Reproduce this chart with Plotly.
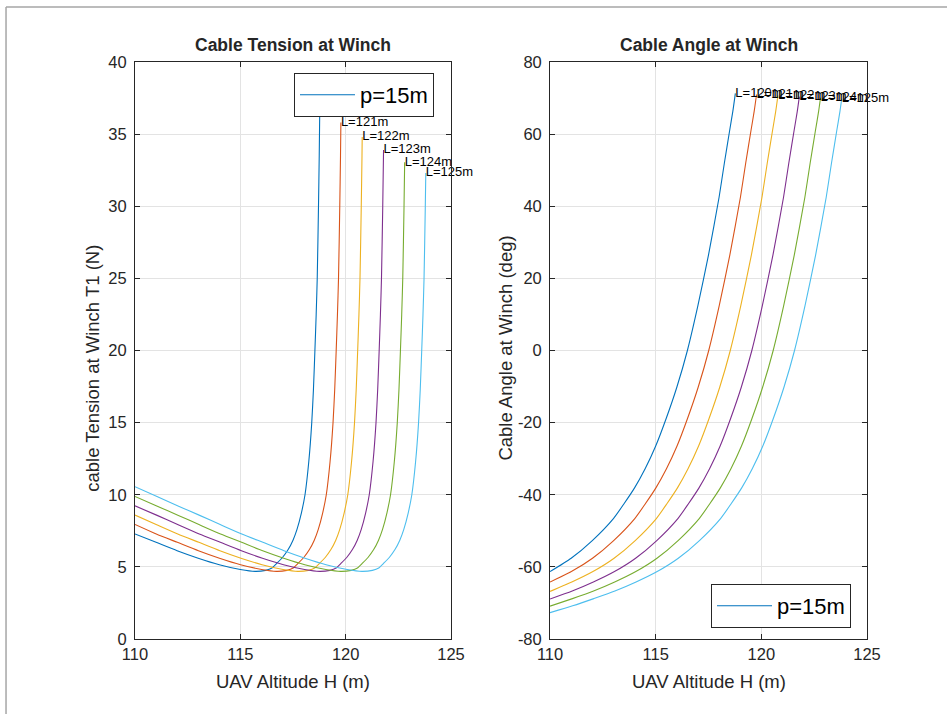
import plotly.graph_objects as go

# ---------------- data ----------------
labels = ["L=120m", "L=121m", "L=122m", "L=123m", "L=124m", "L=125m"]
legend_name = "p=15m"
colors = ["#0072BD", "#D95319", "#EDB120", "#7E2F8E", "#77AC30", "#4DBEEE"]

# Cable tension at winch T1 (N) vs UAV altitude H (m)
tH_120 = [110, 111, 112, 113, 114, 115, 115.7, 116.2, 116.5, 116.75, 117.0, 117.27, 117.5, 117.69, 117.9,
          118.07, 118.25, 118.39, 118.47, 118.54, 118.6, 118.65, 118.71, 118.745, 118.77]
tT_120 = [7.28, 6.7, 6.12, 5.6, 5.15, 4.82, 4.69, 4.76, 4.92, 5.27, 5.65, 6.2, 6.85, 7.6, 8.75,
          10.0, 12.3, 15.0, 17.3, 20.0, 22.5, 25.0, 30.0, 33.5, 36.7]
tH_121 = [110, 111.01, 112.01, 113.01, 114.01, 115.01, 116.01, 116.71, 117.21, 117.51, 117.76, 118.01, 118.28,
          118.51, 118.70, 118.91, 119.08, 119.26, 119.40, 119.48, 119.55, 119.61, 119.66, 119.72, 119.755, 119.773]
tT_121 = [7.94, 7.28, 6.7, 6.12, 5.6, 5.15, 4.82, 4.69, 4.76, 4.92, 5.27, 5.65, 6.2,
          6.85, 7.6, 8.75, 10.0, 12.3, 15.0, 17.3, 20.0, 22.5, 25.0, 30.0, 33.5, 35.8]
tH_122 = [110, 111.03, 112.03, 113.03, 114.03, 115.03, 116.03, 117.03, 117.73, 118.23, 118.53, 118.78, 119.03,
          119.3, 119.53, 119.72, 119.93, 120.1, 120.28, 120.42, 120.5, 120.57, 120.63, 120.68, 120.74, 120.775, 120.785]
tT_122 = [8.59, 7.92, 7.28, 6.7, 6.12, 5.6, 5.15, 4.82, 4.69, 4.76, 4.92, 5.27, 5.65,
          6.2, 6.85, 7.6, 8.75, 10.0, 12.3, 15.0, 17.3, 20.0, 22.5, 25.0, 30.0, 33.5, 34.8]
tH_123 = [110, 111.05, 112.05, 113.05, 114.05, 115.05, 116.05, 117.05, 118.05, 118.75, 119.25, 119.55, 119.8,
          120.05, 120.32, 120.55, 120.74, 120.95, 121.12, 121.3, 121.44, 121.52, 121.59, 121.65, 121.7, 121.76, 121.798]
tT_123 = [9.23, 8.57, 7.92, 7.28, 6.7, 6.12, 5.6, 5.15, 4.82, 4.69, 4.76, 4.92, 5.27,
          5.65, 6.2, 6.85, 7.6, 8.75, 10.0, 12.3, 15.0, 17.3, 20.0, 22.5, 25.0, 30.0, 33.9]
tH_124 = [110, 111.06, 112.06, 113.06, 114.06, 115.06, 116.06, 117.06, 118.06, 119.06, 119.76, 120.26, 120.56,
          120.81, 121.06, 121.33, 121.56, 121.75, 121.96, 122.13, 122.31, 122.45, 122.53, 122.6, 122.66, 122.71,
          122.77, 122.8]
tT_124 = [9.88, 9.2, 8.57, 7.92, 7.28, 6.7, 6.12, 5.6, 5.15, 4.82, 4.69, 4.76, 4.92,
          5.27, 5.65, 6.2, 6.85, 7.6, 8.75, 10.0, 12.3, 15.0, 17.3, 20.0, 22.5, 25.0,
          30.0, 33.05]
tH_125 = [110, 111.07, 112.07, 113.07, 114.07, 115.07, 116.07, 117.07, 118.07, 119.07, 120.07, 120.77, 121.27,
          121.57, 121.82, 122.07, 122.34, 122.57, 122.76, 122.97, 123.14, 123.32, 123.46, 123.54, 123.61, 123.67,
          123.72, 123.78, 123.803]
tT_125 = [10.56, 9.86, 9.2, 8.57, 7.92, 7.28, 6.7, 6.12, 5.6, 5.15, 4.82, 4.69, 4.76,
          4.92, 5.27, 5.65, 6.2, 6.85, 7.6, 8.75, 10.0, 12.3, 15.0, 17.3, 20.0, 22.5,
          25.0, 30.0, 32.3]

# Cable angle at winch (deg) vs UAV altitude H (m)
aH_120 = [110, 111, 112, 113, 113.5, 114, 114.5, 115, 115.5, 116, 116.5, 117, 117.5, 118, 118.25, 118.5, 118.65, 118.77]
aA_120 = [-61.3, -57.6, -52.7, -46.6, -42.5, -38.1, -32.8, -26.5, -18.8, -10.2, 0.0, 12.5, 26.5, 42.5, 52.0, 61.0, 66.3, 71.3]
aH_121 = [110, 111.01, 112.01, 113.01, 114.01, 114.51, 115.01, 115.51, 116.01, 116.51, 117.01, 117.51, 118.01,
          118.51, 119.01, 119.26, 119.51, 119.66, 119.773]
aA_121 = [-64.2, -61.3, -57.6, -52.7, -46.6, -42.5, -38.1, -32.8, -26.5, -18.8, -10.2, 0.0, 12.5,
          26.5, 42.5, 52.0, 61.0, 66.3, 71.0]
aH_122 = [110, 111.03, 112.03, 113.03, 114.03, 115.03, 115.53, 116.03, 116.53, 117.03, 117.53, 118.03, 118.53,
          119.03, 119.53, 120.03, 120.28, 120.53, 120.68, 120.785]
aA_122 = [-66.8, -64.2, -61.3, -57.6, -52.7, -46.6, -42.5, -38.1, -32.8, -26.5, -18.8, -10.2, 0.0,
          12.5, 26.5, 42.5, 52.0, 61.0, 66.3, 70.7]
aH_123 = [110, 111.05, 112.05, 113.05, 114.05, 115.05, 116.05, 116.55, 117.05, 117.55, 118.05, 118.55, 119.05,
          119.55, 120.05, 120.55, 121.05, 121.3, 121.55, 121.7, 121.798]
aA_123 = [-68.9, -66.7, -64.2, -61.3, -57.6, -52.7, -46.6, -42.5, -38.1, -32.8, -26.5, -18.8, -10.2,
          0.0, 12.5, 26.5, 42.5, 52.0, 61.0, 66.3, 70.4]
aH_124 = [110, 111.06, 112.06, 113.06, 114.06, 115.06, 116.06, 117.06, 117.56, 118.06, 118.56, 119.06, 119.56,
          120.06, 120.56, 121.06, 121.56, 122.06, 122.31, 122.56, 122.71, 122.8]
aA_124 = [-70.9, -68.8, -66.7, -64.2, -61.3, -57.6, -52.7, -46.6, -42.5, -38.1, -32.8, -26.5, -18.8,
          -10.2, 0.0, 12.5, 26.5, 42.5, 52.0, 61.0, 66.3, 70.1]
aH_125 = [110, 111.07, 112.07, 113.07, 114.07, 115.07, 116.07, 117.07, 118.07, 118.57, 119.07, 119.57, 120.07,
          120.57, 121.07, 121.57, 122.07, 122.57, 123.07, 123.32, 123.57, 123.72, 123.803]
aA_125 = [-72.7, -70.8, -68.8, -66.7, -64.2, -61.3, -57.6, -52.7, -46.6, -42.5, -38.1, -32.8, -26.5,
          -18.8, -10.2, 0.0, 12.5, 26.5, 42.5, 52.0, 61.0, 66.3, 69.8]

x_ticks = [110, 115, 120, 125]
x_ticktext = ["110", "115", "120", "125"]
y1_ticks = [0, 5, 10, 15, 20, 25, 30, 35, 40]
y1_ticktext = ["0", "5", "10", "15", "20", "25", "30", "35", "40"]
y2_ticks = [-80, -60, -40, -20, 0, 20, 40, 60, 80]
y2_ticktext = ["-80", "-60", "-40", "-20", "0", "20", "40", "60", "80"]

tension_H = [tH_120, tH_121, tH_122, tH_123, tH_124, tH_125]
tension_T = [tT_120, tT_121, tT_122, tT_123, tT_124, tT_125]
angle_H = [aH_120, aH_121, aH_122, aH_123, aH_124, aH_125]
angle_A = [aA_120, aA_121, aA_122, aA_123, aA_124, aA_125]

# ---------------- figure ----------------
FONT = "Liberation Sans, Arial, Helvetica, sans-serif"
AXC = "#262626"
GRID = "#e3e3e3"

fig = go.Figure()

for i in range(6):
    fig.add_trace(go.Scatter(
        x=tension_H[i], y=tension_T[i], mode="lines",
        line=dict(color=colors[i], width=1.1, shape="spline", smoothing=0.6),
        name=legend_name, showlegend=(i == 0), legend="legend",
        xaxis="x", yaxis="y", hoverinfo="skip"))
for i in range(6):
    fig.add_trace(go.Scatter(
        x=[tension_H[i][-1]], y=[tension_T[i][-1]], mode="text",
        text=[labels[i]], textposition="middle right",
        textfont=dict(family=FONT, size=13, color="#000000"),
        cliponaxis=False, showlegend=False, xaxis="x", yaxis="y", hoverinfo="skip"))

for i in range(6):
    fig.add_trace(go.Scatter(
        x=angle_H[i], y=angle_A[i], mode="lines",
        line=dict(color=colors[i], width=1.1, shape="spline", smoothing=0.6),
        name=legend_name, showlegend=(i == 0), legend="legend2",
        xaxis="x2", yaxis="y2", hoverinfo="skip"))
for i in range(6):
    fig.add_trace(go.Scatter(
        x=[angle_H[i][-1]], y=[angle_A[i][-1]], mode="text",
        text=[labels[i]], textposition="middle right",
        textfont=dict(family=FONT, size=13, color="#000000"),
        cliponaxis=False, showlegend=False, xaxis="x2", yaxis="y2", hoverinfo="skip"))

axis_common = dict(
    showgrid=True, gridcolor=GRID, gridwidth=1,
    showline=True, linecolor=AXC, linewidth=1, mirror="ticks",
    ticks="inside", ticklen=5, tickcolor=AXC, tickwidth=1,
    zeroline=False, tickfont=dict(family=FONT, size=16.5, color=AXC),
)

fig.update_layout(
    width=947, height=714,
    margin=dict(l=135, r=80, t=62, b=75),
    paper_bgcolor="white", plot_bgcolor="white",
    xaxis=dict(domain=[0, 0.4317], range=[110, 125], tickvals=x_ticks, ticktext=x_ticktext,
               anchor="y", **axis_common),
    yaxis=dict(domain=[0, 1], range=[0, 40], tickvals=y1_ticks, ticktext=y1_ticktext,
               anchor="x", ticklabelstandoff=4, **axis_common),
    xaxis2=dict(domain=[0.567, 1], range=[110, 125], tickvals=x_ticks, ticktext=x_ticktext,
                anchor="y2", **axis_common),
    yaxis2=dict(domain=[0, 1], range=[-80, 80], tickvals=y2_ticks, ticktext=y2_ticktext,
                anchor="x2", ticklabelstandoff=4, **axis_common),
    legend=dict(x=0.2172, y=0.9428, xanchor="left", yanchor="middle",
                bgcolor="white", bordercolor=AXC, borderwidth=1,
                font=dict(family=FONT, size=22, color="#000000"), itemwidth=55),
    legend2=dict(x=0.7869, y=0.0572, xanchor="left", yanchor="middle",
                 bgcolor="white", bordercolor=AXC, borderwidth=1,
                 font=dict(family=FONT, size=22, color="#000000"), itemwidth=55),
    showlegend=True,
)

annots = [
    dict(text="<b>Cable Tension at Winch</b>", x=0.2159, y=1.0295, size=17.5),
    dict(text="<b>Cable Angle at Winch</b>", x=0.7835, y=1.0295, size=17.5),
    dict(text="UAV Altitude H (m)", x=0.2159, y=-0.0745, size=18.5),
    dict(text="UAV Altitude H (m)", x=0.7835, y=-0.0745, size=18.5),
]
for a in annots:
    fig.add_annotation(text=a["text"], x=a["x"], y=a["y"], xref="paper", yref="paper",
                       xanchor="center", yanchor="middle", showarrow=False,
                       font=dict(family=FONT, size=a["size"], color=AXC))
fig.add_annotation(text="cable Tension at Winch T1 (N)", x=-0.0574, y=0.47, xref="paper", yref="paper",
                   xanchor="center", yanchor="middle", textangle=-90, showarrow=False,
                   font=dict(family=FONT, size=18.5, color=AXC))
fig.add_annotation(text="Cable Angle at Winch (deg)", x=0.5068, y=0.505, xref="paper", yref="paper",
                   xanchor="center", yanchor="middle", textangle=-90, showarrow=False,
                   font=dict(family=FONT, size=18.5, color=AXC))

# figure window edge (top and left)
fig.add_shape(type="line", xref="paper", yref="paper", x0=-0.1762, y0=1.0953, x1=1.2, y1=1.0953,
              line=dict(color="#a6a6a6", width=1.5))
fig.add_shape(type="line", xref="paper", yref="paper", x0=-0.1762, y0=1.0953, x1=-0.1762, y1=-0.2,
              line=dict(color="#a6a6a6", width=1.5))

fig.write_html("out.html")
